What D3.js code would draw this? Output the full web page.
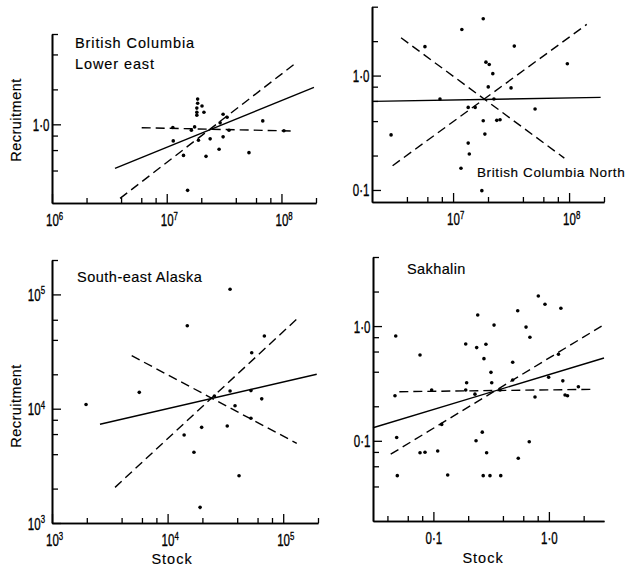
<!DOCTYPE html>
<html>
<head>
<meta charset="utf-8">
<script src="https://cdn.jsdelivr.net/npm/d3@7"></script>
<style>
  body { margin: 0; background: #fff; }
  svg { display: block; }
</style>
</head>
<body>
<svg id="chart" width="628" height="568"></svg>
<script>
// ---------- British Columbia, Lower east ----------
const bcLowerStock   = [1.13e7, 1.14e7, 1.40e7, 1.52e7, 1.64e7, 1.75e7, 1.86e7, 1.86e7, 1.83e7, 1.83e7, 1.83e7, 2.03e7, 2.11e7,
                        1.89e7, 2.20e7, 2.39e7, 2.86e7, 3.10e7, 3.10e7, 3.36e7, 2.92e7, 3.49e7, 5.21e7, 6.87e7, 1.05e8];
const bcLowerRecruit = [0.94, 0.72, 0.54, 0.27, 0.89, 0.95, 1.65, 1.52, 1.38, 1.27, 1.20, 1.44, 1.27,
                        0.73, 0.53, 0.75, 0.61, 0.78, 1.22, 1.15, 1.03, 0.89, 0.57, 1.07, 0.88];
const bcLowerFunctional = [[3.54e6, 0.418], [1.92e8, 2.08]];
const bcLowerStockOnRec = [[3.92e6, 0.23], [1.38e8, 3.46]];
const bcLowerRecOnStock = [[6.05e6, 0.935], [1.32e8, 0.875]];
const bcLowerXMinor = [2e6, 4e6, 6e6, 8e6, 2e7, 4e7, 6e7, 8e7, 2e8];
const bcLowerXMajor = [1e6, 1e7, 1e8];
const bcLowerXLabels = ["10^6", "10^7", "10^8"];
const bcLowerYMinor = [0.4, 0.6, 0.8, 2, 4, 6];
const bcLowerYMajor = [1];
const bcLowerYLabels = ["1·0"];

// ---------- British Columbia, North ----------
const bcNorthStock   = [2.92e6, 5.72e6, 7.71e6, 1.19e7, 1.17e7, 1.35e7, 1.35e7, 1.38e7, 1.55e7, 1.82e7, 1.77e7, 1.82e7,
                        1.88e7, 1.92e7, 2.05e7, 2.01e7, 2.20e7, 2.25e7, 2.38e7, 2.54e7, 3.16e7, 3.37e7, 5.09e7, 9.66e7];
const bcNorthRecruit = [0.303, 1.79, 0.625, 2.53, 0.155, 0.527, 0.257, 0.206, 0.527, 3.14, 0.0986, 0.403,
                        0.308, 1.31, 1.25, 0.796, 1.04, 0.625, 0.406, 0.411, 0.780, 1.81, 0.51, 1.27];
const bcNorthFunctional = [[2.05e6, 0.595], [1.87e8, 0.645]];
const bcNorthStockOnRec = [[3.01e6, 0.163], [1.42e8, 2.80]];
const bcNorthRecOnStock = [[3.56e6, 2.14], [9.1e7, 0.19]];
const bcNorthXMinor = [4e6, 6e6, 8e6, 2e7, 4e7, 6e7, 8e7, 2e8];
const bcNorthXMajor = [1e7, 1e8];
const bcNorthXLabels = ["10^7", "10^8"];
const bcNorthYMinor = [0.2, 0.4, 0.6, 0.8, 2, 4];
const bcNorthYMajor = [0.1, 1];
const bcNorthYLabels = ["0·1", "1·0"];

// ---------- South-east Alaska ----------
const seAlaskaStock   = [1.97e3, 5.69e3, 1.48e4, 1.39e4, 1.69e4, 1.97e4, 1.91e4, 2.54e4, 3.47e4,
                         3.28e4, 3.47e4, 3.83e4, 4.15e4, 5.34e4, 5.26e4, 5.26e4, 6.52e4, 6.87e4];
const seAlaskaRecruit = [1.09e4, 1.39e4, 5.32e4, 5.89e3, 4.16e3, 6.87e3, 1.37e3, 1.29e4, 1.11e5,
                         7.06e3, 1.43e4, 1.06e4, 2.59e3, 3.09e4, 1.44e4, 8.24e3, 1.22e4, 4.33e4];
const seAlaskaFunctional = [[2.6e3, 7.31e3], [1.95e5, 2.0e4]];
const seAlaskaStockOnRec = [[3.51e3, 2.05e3], [1.38e5, 6.38e4]];
const seAlaskaRecOnStock = [[4.89e3, 2.91e4], [1.31e5, 4.98e3]];
const seAlaskaXMinor = [2e3, 4e3, 6e3, 8e3, 2e4, 4e4, 6e4, 8e4, 2e5];
const seAlaskaXMajor = [1e3, 1e4, 1e5];
const seAlaskaXLabels = ["10^3", "10^4", "10^5"];
const seAlaskaYMinor = [2e3, 4e3, 6e3, 8e3, 2e4, 4e4, 6e4, 2e5];
const seAlaskaYMajor = [1e3, 1e4, 1e5];
const seAlaskaYLabels = ["10^3", "10^4", "10^5"];

// ---------- Sakhalin ----------
const sakhalinStock   = [0.0472, 0.0465, 0.0481, 0.0487, 0.0766, 0.0766, 0.0846, 0.0966, 0.109, 0.118, 0.133, 0.1905,
                         0.194, 0.1905, 0.234, 0.229, 0.242, 0.237, 0.265, 0.270, 0.274, 0.285, 0.289, 0.309,
                         0.315, 0.320, 0.335, 0.383, 0.378, 0.486, 0.486, 0.537, 0.543, 0.634, 0.676, 0.685,
                         0.758, 0.81, 0.925, 0.995, 1.21, 1.27, 1.32, 1.38, 1.45, 1.80];
const sakhalinRecruit = [0.82, 0.247, 0.107, 0.0497, 0.56, 0.0787, 0.0794, 0.277, 0.0815, 0.139, 0.0504, 0.698,
                         0.321, 0.277, 0.100, 0.255, 1.25, 0.649, 0.119, 0.0497, 0.52, 0.695, 0.0787, 0.0497,
                         0.395, 0.321, 1.02, 0.0497, 0.277, 0.484, 0.339, 1.36, 0.0705, 0.98, 0.098, 0.80,
                         0.241, 1.83, 1.55, 0.358, 0.568, 1.43, 0.333, 0.251, 0.247, 0.296];
const sakhalinFunctional = [[0.03, 0.130], [3.0, 0.527]];
const sakhalinStockOnRec = [[0.0427, 0.0764], [2.86, 1.0]];
const sakhalinRecOnStock = [[0.0507, 0.268], [2.51, 0.281]];
const sakhalinXMinor = [0.04, 0.06, 0.08, 0.2, 0.4, 0.6, 0.8, 2];
const sakhalinXMajor = [0.1, 1];
const sakhalinXLabels = ["0·1", "1·0"];
const sakhalinYMinor = [0.04, 0.06, 0.08, 0.2, 0.4, 0.6, 0.8, 2, 4];
const sakhalinYMajor = [0.1, 1];
const sakhalinYLabels = ["0·1", "1·0"];

// ---------- drawing ----------
const svg = d3.select("#chart");
const FONT = "'Liberation Sans', Arial, sans-serif";
const NUM_SCALE = 0.68;   // narrow numerals
const NUM_SIZE = 17;
const NUM_INK = 0.35;     // slight stroke to give the numerals weight
const WORD_INK = 0.15;

function numLabel(text, label, anchor) {
  text.text(null)
    .attr("font-family", FONT)
    .attr("font-size", NUM_SIZE)
    .attr("fill", "#000")
    .attr("stroke", "#000").attr("stroke-width", NUM_INK)
    .attr("text-anchor", anchor);
  const parts = label.split("^");
  text.append("tspan").text(parts[0]);
  if (parts[1]) {
    text.append("tspan").attr("font-size", 11.5).attr("dy", -6.5).text(parts[1]);
  }
}

function drawPanel(p) {
  const x = d3.scaleLog().domain(p.xDomain).range(p.xRange);
  const y = d3.scaleLog().domain(p.yDomain).range(p.yRange);
  const g = svg.append("g");
  const x0 = p.xRange[0], y0 = p.yRange[0];

  // x axis: minor and decade ticks point inward
  g.append("g").attr("transform", `translate(0,${y0})`)
    .call(d3.axisBottom(x).tickValues(p.xMinor).tickSize(-5).tickSizeOuter(0).tickFormat(""));
  const xMaj = g.append("g").attr("transform", `translate(0,${y0})`)
    .call(d3.axisBottom(x).tickValues(p.xMajor).tickSize(-9).tickSizeOuter(0).tickFormat((d, i) => p.xLabels[i]));
  xMaj.selectAll(".tick text").each(function (d, i) {
    const lab = p.xLabels[i];
    const t = d3.select(this);
    const sup = lab.includes("^");
    numLabel(t, lab, sup ? "start" : "middle");
    t.attr("x", sup ? -6.5 / NUM_SCALE : 0).attr("y", 23.5).attr("dy", null)
      .attr("transform", `scale(${NUM_SCALE},1)`);
  });

  // y axis
  g.append("g").attr("transform", `translate(${x0},0)`)
    .call(d3.axisLeft(y).tickValues(p.yMinor).tickSize(-6).tickSizeOuter(0).tickFormat(""));
  const yMaj = g.append("g").attr("transform", `translate(${x0},0)`)
    .call(d3.axisLeft(y).tickValues(p.yMajor).tickSize(-9).tickSizeOuter(0).tickFormat((d, i) => p.yLabels[i]));
  yMaj.selectAll(".tick text").each(function (d, i) {
    const lab = p.yLabels[i];
    const t = d3.select(this);
    const sup = lab.includes("^");
    numLabel(t, lab, "end");
    t.attr("x", (sup ? -7 : -2.5) / NUM_SCALE).attr("y", 6).attr("dy", null)
      .attr("transform", `scale(${NUM_SCALE},1)`);
  });

  g.selectAll(".domain").attr("stroke", "#000").attr("stroke-width", 1.6);
  g.selectAll(".tick line").attr("stroke", "#000").attr("stroke-width", 1.3);

  // regression lines
  const line = d3.line().x(d => x(d[0])).y(d => y(d[1]));
  g.append("path").datum(p.functional).attr("d", line)
    .attr("fill", "none").attr("stroke", "#000").attr("stroke-width", 1.4);
  [p.stockOnRec, p.recOnStock].forEach(seg => {
    g.append("path").datum(seg).attr("d", line)
      .attr("fill", "none").attr("stroke", "#000").attr("stroke-width", 1.4)
      .attr("stroke-dasharray", "9,5");
  });

  // observations
  g.append("g").selectAll("circle")
    .data(p.stock.map((s, i) => [s, p.recruit[i]]))
    .join("circle")
    .attr("cx", d => x(d[0])).attr("cy", d => y(d[1]))
    .attr("r", 1.8).attr("fill", "#000");

  // panel title
  p.title.forEach(tl => {
    g.append("text").attr("x", tl.x).attr("y", tl.y)
      .attr("font-family", FONT).attr("font-size", tl.size)
      .attr("letter-spacing", tl.spacing).attr("fill", "#000")
      .attr("stroke", "#000").attr("stroke-width", WORD_INK)
      .text(tl.text);
  });
}

const panels = [
  { xDomain: [1e6, 2e8], xRange: [52, 316], yDomain: [0.21, 6], yRange: [203, 34],
    stock: bcLowerStock, recruit: bcLowerRecruit,
    functional: bcLowerFunctional, stockOnRec: bcLowerStockOnRec, recOnStock: bcLowerRecOnStock,
    xMinor: bcLowerXMinor, xMajor: bcLowerXMajor, xLabels: bcLowerXLabels,
    yMinor: bcLowerYMinor, yMajor: bcLowerYMajor, yLabels: bcLowerYLabels,
    title: [{ text: "British Columbia", x: 75, y: 48, size: 14.5, spacing: 0.9 },
            { text: "Lower east", x: 75, y: 68.5, size: 14.5, spacing: 0.9 }] },
  { xDomain: [2e6, 2e8], xRange: [372, 604], yDomain: [0.0785, 4], yRange: [202, 6.7],
    stock: bcNorthStock, recruit: bcNorthRecruit,
    functional: bcNorthFunctional, stockOnRec: bcNorthStockOnRec, recOnStock: bcNorthRecOnStock,
    xMinor: bcNorthXMinor, xMajor: bcNorthXMajor, xLabels: bcNorthXLabels,
    yMinor: bcNorthYMinor, yMajor: bcNorthYMajor, yLabels: bcNorthYLabels,
    title: [{ text: "British Columbia North", x: 477, y: 177, size: 13.5, spacing: 0.6 }] },
  { xDomain: [1e3, 2e5], xRange: [52, 318], yDomain: [1e3, 2e5], yRange: [523, 260],
    stock: seAlaskaStock, recruit: seAlaskaRecruit,
    functional: seAlaskaFunctional, stockOnRec: seAlaskaStockOnRec, recOnStock: seAlaskaRecOnStock,
    xMinor: seAlaskaXMinor, xMajor: seAlaskaXMajor, xLabels: seAlaskaXLabels,
    yMinor: seAlaskaYMinor, yMajor: seAlaskaYMajor, yLabels: seAlaskaYLabels,
    title: [{ text: "South-east Alaska", x: 77, y: 281.5, size: 14.5, spacing: 0.5 }] },
  { xDomain: [0.03, 3], xRange: [373, 604], yDomain: [0.02, 4], yRange: [521, 257],
    stock: sakhalinStock, recruit: sakhalinRecruit,
    functional: sakhalinFunctional, stockOnRec: sakhalinStockOnRec, recOnStock: sakhalinRecOnStock,
    xMinor: sakhalinXMinor, xMajor: sakhalinXMajor, xLabels: sakhalinXLabels,
    yMinor: sakhalinYMinor, yMajor: sakhalinYMajor, yLabels: sakhalinYLabels,
    title: [{ text: "Sakhalin", x: 407, y: 274, size: 14.5, spacing: 0.4 }] }
];
panels.forEach(drawPanel);

// shared axis titles
function axisTitle(text, x, y, rotate) {
  svg.append("text")
    .attr("transform", `translate(${x},${y})` + (rotate ? " rotate(-90)" : ""))
    .attr("text-anchor", "middle")
    .attr("font-family", FONT).attr("font-size", 14.5)
    .attr("letter-spacing", rotate ? 0.5 : 1).attr("fill", "#000")
    .attr("stroke", "#000").attr("stroke-width", WORD_INK)
    .text(text);
}
axisTitle("Recruitment", 21, 120, true);
axisTitle("Recruitment", 21, 406, true);
axisTitle("Stock", 172, 564, false);
axisTitle("Stock", 483, 563, false);
</script>
</body>
</html>
